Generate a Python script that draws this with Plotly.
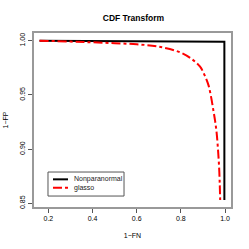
import plotly.graph_objects as go

title = "CDF Transform"
x_label = "1\u2212FN"
y_label = "1\u2212FP"
series_names = ["Nonparanormal", "glasso"]

npn_x = [0.16, 0.5, 0.9, 0.99, 0.997, 0.997]
npn_y = [1.0, 0.9998, 0.9997, 0.9995, 0.999, 0.853]

gl_x = [0.16, 0.3, 0.4, 0.5, 0.6, 0.7, 0.8, 0.85, 0.887, 0.91, 0.925, 0.937, 0.947, 0.955, 0.962, 0.968, 0.973, 0.976, 0.978]
gl_y = [1.0, 0.9992, 0.9985, 0.9977, 0.9967, 0.9945, 0.989, 0.983, 0.976, 0.967, 0.959, 0.948, 0.936, 0.926, 0.915, 0.900, 0.884, 0.868, 0.853]

x_ticks = [0.2, 0.4, 0.6, 0.8, 1.0]
x_ticklabels = ["0.2", "0.4", "0.6", "0.8", "1.0"]
y_ticks = [0.85, 0.90, 0.95, 1.00]
y_ticklabels = ["0.85", "0.90", "0.95", "1.00"]

colors = ["black", "red"]
dashes = ["solid", "dashdot"]

fig = go.Figure()
fig.add_trace(go.Scatter(x=npn_x, y=npn_y, mode="lines", name=series_names[0],
                         line=dict(color=colors[0], width=2, dash=dashes[0])))
fig.add_trace(go.Scatter(x=gl_x, y=gl_y, mode="lines", name=series_names[1],
                         line=dict(color=colors[1], width=2, dash=dashes[1], shape="spline")))

FONT = "Liberation Sans, Arial, sans-serif"
font = dict(family=FONT, size=7, color="black")

# manual R-style legend (layout element, in plot-area paper coords)
shapes = [dict(type="rect", xref="paper", yref="paper", x0=0.071, x1=0.457, y0=0.063, y1=0.201,
               line=dict(color="#555", width=1), fillcolor="white", layer="above")]
annotations = []
rows = [0.159, 0.111]
for name, c, d, yy in zip(series_names, colors, dashes, rows):
    shapes.append(dict(type="line", xref="paper", yref="paper", x0=0.0964, x1=0.1726, y0=yy, y1=yy,
                       line=dict(color=c, width=2, dash=d), layer="above"))
    annotations.append(dict(xref="paper", yref="paper", x=0.193, y=yy, text=name, showarrow=False,
                            xanchor="left", yanchor="middle", font=dict(family=FONT, size=7, color="#222")))

fig.update_layout(
    width=249, height=249,
    margin=dict(l=34, r=18, t=33, b=42, autoexpand=False),
    paper_bgcolor="white", plot_bgcolor="white",
    font=font,
    showlegend=False,
    shapes=shapes, annotations=annotations,
    title=dict(text="<b>" + title + "</b>", x=0.536, xanchor="center", y=0.9265, yanchor="middle",
               font=dict(family=FONT, size=8.5, color="black")),
    xaxis=dict(range=[0.135, 1.027], tickvals=x_ticks, ticktext=x_ticklabels, automargin=False,
               ticks="outside", ticklen=4, tickcolor="#555", showgrid=False, zeroline=False,
               showline=True, linecolor="#999", linewidth=2, mirror=True,
               title=dict(text=x_label, standoff=12, font=font)),
    yaxis=dict(range=[0.8466, 1.0071], tickvals=y_ticks, ticktext=y_ticklabels, automargin=False,
               ticks="outside", ticklen=4, tickcolor="#555", tickangle=-90, showgrid=False, zeroline=False,
               showline=True, linecolor="#999", linewidth=2, mirror=True,
               title=dict(text=y_label, standoff=10, font=font)),
)
fig.write_html("out.html", post_script="document.body.style.margin='0';",
               config={"displayModeBar": False})
